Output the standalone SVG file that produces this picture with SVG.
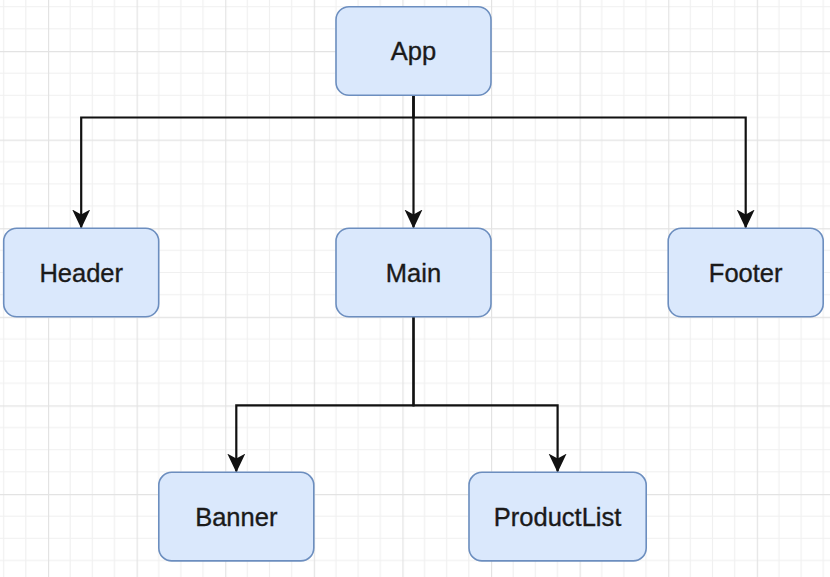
<svg xmlns="http://www.w3.org/2000/svg" width="830" height="577" viewBox="0 0 830 577">
  <defs>
    <pattern id="grid" patternUnits="userSpaceOnUse" x="48" y="51" width="88.6" height="88.6">
      <path d="M22.15 0V88.6M44.3 0V88.6M66.45 0V88.6M0 22.15H88.6M0 44.3H88.6M0 66.45H88.6" stroke="#f0f0f0" stroke-width="1.2" fill="none"/>
      <path d="M0.5 0V88.6M0 0.5H88.6" stroke="#e3e3e3" stroke-width="1.4" fill="none"/>
    </pattern>
    <marker id="arrow" viewBox="0 0 19 20" refX="18" refY="10" markerWidth="19" markerHeight="20" markerUnits="userSpaceOnUse" orient="auto">
      <path d="M0 1 L19 10 L0 19 L5 10 Z" fill="#111111"/>
    </marker>
    <style>
      .node rect { fill: #dae8fc; stroke: #6c8ebf; stroke-width: 1.6; }
      .node text { font-family: "Liberation Sans", Arial, sans-serif; font-size: 25.5px; fill: #1a1a1a; stroke: #1a1a1a; stroke-width: 0.35; text-anchor: middle; }
      .edge { fill: none; stroke: #111111; stroke-width: 2.2; marker-end: url(#arrow); }
    </style>
  </defs>
  <rect width="830" height="577" fill="#ffffff"/>
  <rect width="830" height="577" fill="url(#grid)"/>

  <g id="connectors">
    <path class="edge" d="M413.5 95.3 V117.5 H81.2 V227.5"/>
    <path class="edge" d="M413.5 95.3 V227.5"/>
    <path class="edge" d="M413.5 95.3 V117.5 H745.7 V227.5"/>
    <path class="edge" d="M413.5 316.8 V405.4 H236.3 V471.6"/>
    <path class="edge" d="M413.5 316.8 V405.4 H557.6 V471.6"/>
  </g>

  <g id="node-app" class="node">
    <rect x="336" y="6.7" width="155" height="88.6" rx="13"/>
    <text x="413.5" y="60">App</text>
  </g>
  <g id="node-header" class="node">
    <rect x="3.7" y="228.2" width="155" height="88.6" rx="13"/>
    <text x="81.2" y="281.5">Header</text>
  </g>
  <g id="node-main" class="node">
    <rect x="336" y="228.2" width="155" height="88.6" rx="13"/>
    <text x="413.5" y="281.5">Main</text>
  </g>
  <g id="node-footer" class="node">
    <rect x="668.2" y="228.2" width="155" height="88.6" rx="13"/>
    <text x="745.7" y="281.5">Footer</text>
  </g>
  <g id="node-banner" class="node">
    <rect x="158.8" y="472.3" width="155" height="88.6" rx="13"/>
    <text x="236.3" y="525.6">Banner</text>
  </g>
  <g id="node-productlist" class="node">
    <rect x="469" y="472.3" width="177.2" height="88.6" rx="13"/>
    <text x="557.6" y="525.6">ProductList</text>
  </g>
</svg>
